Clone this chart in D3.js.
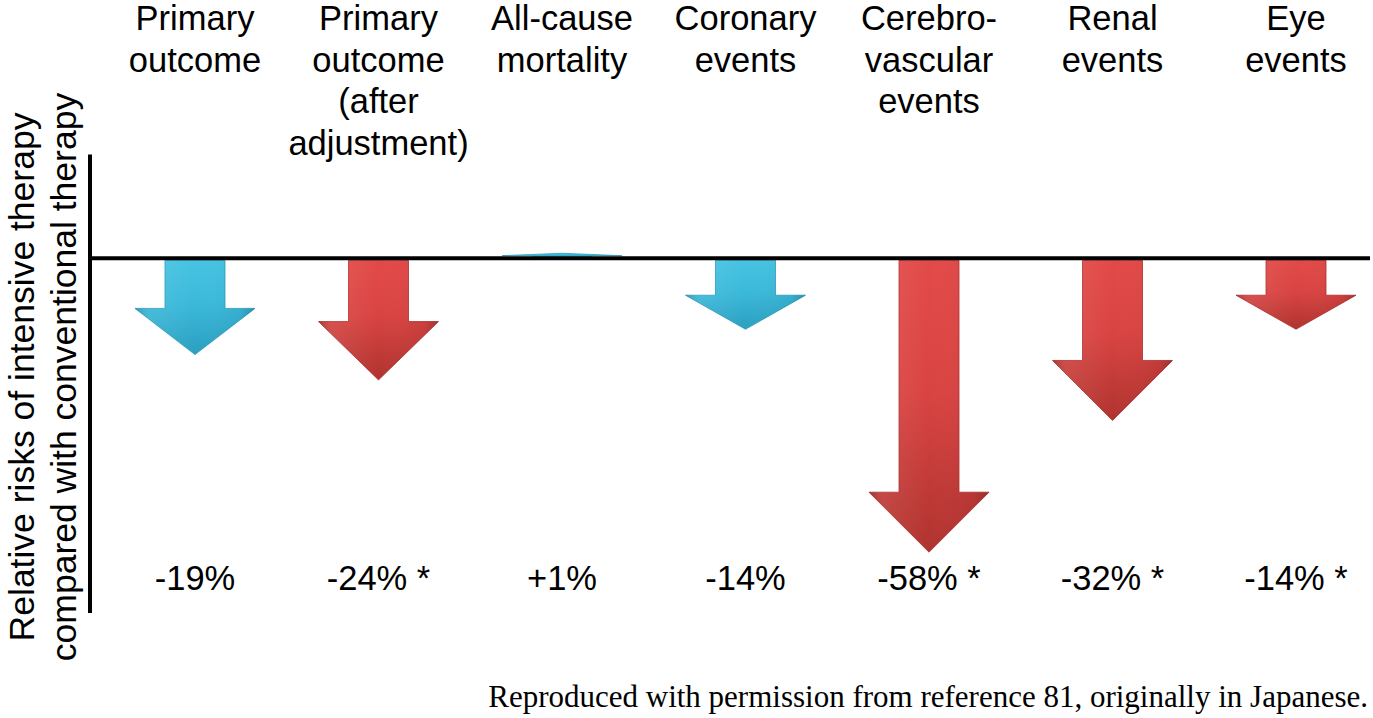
<!DOCTYPE html>
<html>
<head>
<meta charset="utf-8">
<script src="https://cdn.jsdelivr.net/npm/d3@7"></script>
<style>
  html, body { margin: 0; padding: 0; background: #fff; }
  svg { display: block; }
</style>
</head>
<body>
<svg id="chart"></svg>
<script>
const categories = [
  ['Primary', 'outcome'],
  ['Primary', 'outcome', '(after', 'adjustment)'],
  ['All-cause', 'mortality'],
  ['Coronary', 'events'],
  ['Cerebro-', 'vascular', 'events'],
  ['Renal', 'events'],
  ['Eye', 'events']
]
const changes = [-19, -24, 1, -14, -58, -32, -14]
const valueLabels = ['-19%', '-24% *', '+1%', '-14%', '-58% *', '-32% *', '-14% *']
const significant = [false, true, false, false, true, true, true]

const width = 1373
const height = 718
const FONT = 'Liberation Sans, Arial, sans-serif'

const svg = d3.select('#chart')
  .attr('width', width)
  .attr('height', height)
  .attr('viewBox', `0 0 ${width} ${height}`)

const x = d3.scalePoint()
  .domain(d3.range(categories.length))
  .range([195, 1296])

const y = d3.scaleLinear()
  .domain([20, -70])
  .range([157, 613])

// gradients for the arrow fills
const defs = svg.append('defs')
const grads = {
  red: ['#e24a48', '#d94442', '#b0332f'],
  blue: ['#46c3e2', '#3bb9da', '#2b9fc0']
}
Object.entries(grads).forEach(([name, stops]) => {
  const g = defs.append('linearGradient')
    .attr('id', 'grad-' + name)
    .attr('x1', 0).attr('y1', 0).attr('x2', 0).attr('y2', 1)
  g.append('stop').attr('offset', '0%').attr('stop-color', stops[0])
  g.append('stop').attr('offset', '45%').attr('stop-color', stops[1])
  g.append('stop').attr('offset', '100%').attr('stop-color', stops[2])
})
const side = defs.append('linearGradient')
  .attr('id', 'grad-side')
  .attr('x1', 0).attr('y1', 0).attr('x2', 1).attr('y2', 0)
side.append('stop').attr('offset', '0%').attr('stop-color', '#000').attr('stop-opacity', 0.18)
side.append('stop').attr('offset', '12%').attr('stop-color', '#fff').attr('stop-opacity', 0.08)
side.append('stop').attr('offset', '50%').attr('stop-color', '#fff').attr('stop-opacity', 0)
side.append('stop').attr('offset', '88%').attr('stop-color', '#000').attr('stop-opacity', 0.04)
side.append('stop').attr('offset', '100%').attr('stop-color', '#000').attr('stop-opacity', 0.2)

const shaftHalf = 30
const headHalf = 60

function arrowPath(d, i) {
  const cx = x(i)
  const y0 = y(0)
  const y1 = y(d)
  const len = Math.abs(y1 - y0)
  const dir = y1 > y0 ? 1 : -1
  const head = Math.min(60, len * 0.48)
  const yh = y1 - dir * head
  const y0s = y0 + dir * 2
  return `M${cx - shaftHalf},${y0s} L${cx + shaftHalf},${y0s} L${cx + shaftHalf},${yh} ` +
    `L${cx + headHalf},${yh} L${cx},${y1} L${cx - headHalf},${yh} L${cx - shaftHalf},${yh} Z`
}

const arrows = svg.append('g').attr('class', 'arrows')
  .selectAll('g')
  .data(changes)
  .enter()
  .append('g')

arrows.append('path')
  .attr('d', arrowPath)
  .attr('fill', (d, i) => significant[i] ? 'url(#grad-red)' : 'url(#grad-blue)')
  .attr('stroke', (d, i) => significant[i] ? '#a9302c' : '#2a9ab9')
  .attr('stroke-width', 0.8)
  .attr('stroke-linejoin', 'round')

arrows.append('path')
  .attr('d', arrowPath)
  .attr('fill', 'url(#grad-side)')

// axes
svg.append('line')
  .attr('x1', 90).attr('x2', 90)
  .attr('y1', y(20.5)).attr('y2', y(-70))
  .attr('stroke', '#000').attr('stroke-width', 4)

svg.append('line')
  .attr('x1', 88).attr('x2', 1370)
  .attr('y1', y(0)).attr('y2', y(0))
  .attr('stroke', '#000').attr('stroke-width', 4)

// category labels
const catText = svg.append('g').attr('class', 'categories')
  .selectAll('text')
  .data(categories)
  .enter()
  .append('text')
  .attr('x', (d, i) => x(i))
  .attr('y', 30)
  .attr('text-anchor', 'middle')
  .attr('font-family', FONT)
  .attr('font-size', '34.5px')
  .attr('fill', '#000')

catText.selectAll('tspan')
  .data(d => d)
  .enter()
  .append('tspan')
  .attr('x', function () { return d3.select(this.parentNode).attr('x') })
  .attr('dy', (d, j) => j === 0 ? 0 : 41.5)
  .text(d => d)

// value labels
svg.append('g').attr('class', 'values')
  .selectAll('text')
  .data(valueLabels)
  .enter()
  .append('text')
  .attr('x', (d, i) => x(i))
  .attr('y', 590)
  .attr('text-anchor', 'middle')
  .attr('font-family', FONT)
  .attr('font-size', '34.5px')
  .attr('fill', '#000')
  .text(d => d)

// y axis title
const yTitle = svg.append('text')
  .attr('transform', 'translate(34,377) rotate(-90)')
  .attr('text-anchor', 'middle')
  .attr('font-family', FONT)
  .attr('font-size', '35.5px')
  .attr('fill', '#000')
yTitle.append('tspan').attr('x', 0).attr('dy', 0).text('Relative risks of intensive therapy')
yTitle.append('tspan').attr('x', 0).attr('dy', 42).text('compared with conventional therapy')

// source note
svg.append('text')
  .attr('x', 1368)
  .attr('y', 707)
  .attr('text-anchor', 'end')
  .attr('font-family', 'Liberation Serif, Times New Roman, serif')
  .attr('font-size', '31px')
  .attr('fill', '#000')
  .text('Reproduced with permission from reference 81, originally in Japanese.')
</script>
</body>
</html>
